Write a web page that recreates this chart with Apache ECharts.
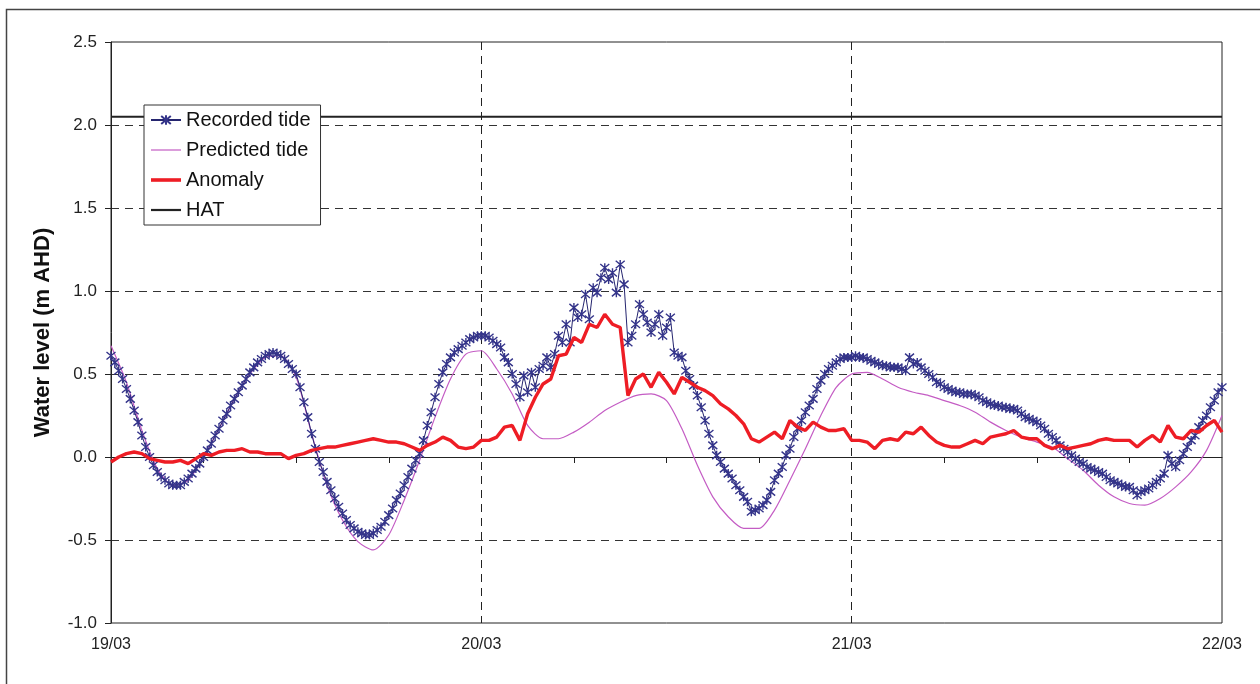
<!DOCTYPE html>
<html>
<head>
<meta charset="utf-8">
<script src="https://cdn.jsdelivr.net/npm/echarts@6/dist/echarts.min.js"></script>
<style>
html,body{margin:0;padding:0;background:#fff;}
#chart{width:1260px;height:684px;}
</style>
</head>
<body>
<div id="chart"></div>
<script>
// ---- Data (hours since 19/03 00:00) ----
const dayLabels = ['19/03', '20/03', '21/03', '22/03'];
const recordedStepHours = 0.25;
const recordedTide = [
  // 19/03
  0.61, 0.57, 0.52, 0.47, 0.41, 0.35, 0.28, 0.21, 0.13, 0.06, 0.00, -0.05,
  -0.09, -0.12, -0.14, -0.16, -0.17, -0.17, -0.17, -0.15, -0.13, -0.10, -0.07, -0.04,
  0.00, 0.04, 0.08, 0.13, 0.17, 0.22, 0.26, 0.31, 0.35, 0.39, 0.43, 0.47,
  0.51, 0.54, 0.57, 0.59, 0.61, 0.62, 0.63, 0.62, 0.61, 0.59, 0.56, 0.53,
  0.50, 0.42, 0.33, 0.24, 0.14, 0.05, -0.03, -0.09, -0.15, -0.20, -0.25, -0.30,
  -0.34, -0.38, -0.41, -0.43, -0.45, -0.46, -0.47, -0.47, -0.46, -0.44, -0.42, -0.39,
  -0.35, -0.31, -0.26, -0.22, -0.17, -0.12, -0.07, -0.02, 0.02, 0.10, 0.19, 0.27,
  0.36, 0.44, 0.51, 0.56, 0.60, 0.63, 0.65, 0.67, 0.69, 0.71, 0.72, 0.73,
  // 20/03
  0.73, 0.73, 0.72, 0.70, 0.68, 0.66, 0.60, 0.57, 0.50, 0.44, 0.36, 0.49,
  0.39, 0.51, 0.42, 0.53, 0.55, 0.60, 0.54, 0.62, 0.73, 0.69, 0.80, 0.69,
  0.90, 0.84, 0.86, 0.98, 0.83, 1.02, 0.99, 1.08, 1.14, 1.07, 1.11, 0.99,
  1.16, 1.04, 0.69, 0.73, 0.80, 0.92, 0.86, 0.81, 0.75, 0.80, 0.86, 0.73,
  0.78, 0.84, 0.63, 0.61, 0.60, 0.52, 0.47, 0.43, 0.37, 0.30, 0.22, 0.14,
  0.07, 0.01, -0.03, -0.07, -0.10, -0.13, -0.17, -0.20, -0.24, -0.27, -0.33, -0.32,
  -0.31, -0.29, -0.26, -0.21, -0.14, -0.10, -0.06, 0.01, 0.05, 0.12, 0.17, 0.22,
  0.27, 0.31, 0.35, 0.41, 0.46, 0.50, 0.53, 0.55, 0.57, 0.59, 0.60, 0.60,
  // 21/03
  0.60, 0.61, 0.60, 0.60, 0.59, 0.58, 0.57, 0.56, 0.55, 0.55, 0.54, 0.54,
  0.54, 0.53, 0.52, 0.60, 0.56, 0.57, 0.54, 0.52, 0.50, 0.48, 0.45, 0.44,
  0.42, 0.41, 0.40, 0.39, 0.39, 0.38, 0.38, 0.38, 0.37, 0.36, 0.34, 0.33,
  0.32, 0.31, 0.31, 0.30, 0.30, 0.29, 0.29, 0.28, 0.26, 0.24, 0.23, 0.22,
  0.21, 0.19, 0.17, 0.14, 0.12, 0.10, 0.07, 0.05, 0.03, 0.01, -0.01, -0.03,
  -0.04, -0.06, -0.07, -0.08, -0.09, -0.10, -0.12, -0.14, -0.15, -0.16, -0.17, -0.18,
  -0.18, -0.20, -0.23, -0.21, -0.20, -0.19, -0.17, -0.15, -0.13, -0.10, 0.01, -0.04,
  -0.06, -0.02, 0.02, 0.06, 0.10, 0.13, 0.18, 0.22, 0.25, 0.30, 0.34, 0.39,
  // 22/03 00:00
  0.42
];
const predictedStepHours = 1;
const predictedTide = [
  0.67, 0.45, 0.16, -0.07, -0.17, -0.14, 0.00, 0.17, 0.35, 0.50, 0.60, 0.61,
  0.48, 0.14, -0.17, -0.38, -0.51, -0.56, -0.47, -0.26, -0.02, 0.24, 0.47, 0.62,
  0.64, 0.53, 0.38, 0.19, 0.11, 0.11, 0.15, 0.21, 0.28, 0.33, 0.37, 0.38,
  0.34, 0.17, -0.05, -0.24, -0.36, -0.43, -0.43, -0.32, -0.14, 0.05, 0.25, 0.42,
  0.50, 0.51, 0.47, 0.42, 0.39, 0.37, 0.34, 0.31, 0.27, 0.21, 0.16, 0.12,
  0.09, 0.06, -0.01, -0.08, -0.17, -0.24, -0.28, -0.29, -0.25, -0.18, -0.09, 0.04,
  0.25
];
const anomalyStepHours = 0.5;
const anomaly = [
  -0.03, 0.00, 0.02, 0.03, 0.02, -0.01, -0.02, -0.03, -0.03, -0.02, -0.04, -0.01,
  0.02, 0.01, 0.03, 0.04, 0.04, 0.05, 0.03, 0.03, 0.02, 0.02, 0.02, -0.01,
  0.01, 0.02, 0.04, 0.05, 0.06, 0.06, 0.07, 0.08, 0.09, 0.10, 0.11, 0.10,
  0.09, 0.09, 0.08, 0.06, 0.04, 0.07, 0.09, 0.12, 0.10, 0.06, 0.05, 0.06,
  0.10, 0.10, 0.12, 0.18, 0.19, 0.10, 0.26, 0.36, 0.44, 0.47, 0.61, 0.62,
  0.72, 0.69, 0.80, 0.78, 0.86, 0.80, 0.78, 0.37, 0.47, 0.50, 0.42, 0.51,
  0.45, 0.38, 0.48, 0.45, 0.42, 0.40, 0.37, 0.32, 0.29, 0.25, 0.20, 0.11,
  0.09, 0.12, 0.15, 0.11, 0.22, 0.18, 0.16, 0.21, 0.18, 0.16, 0.16, 0.17,
  0.10, 0.10, 0.09, 0.05, 0.10, 0.11, 0.10, 0.15, 0.14, 0.18, 0.13, 0.09,
  0.07, 0.06, 0.06, 0.08, 0.10, 0.08, 0.12, 0.13, 0.14, 0.16, 0.12, 0.11,
  0.11, 0.07, 0.05, 0.07, 0.05, 0.06, 0.07, 0.08, 0.10, 0.11, 0.10, 0.10,
  0.10, 0.06, 0.10, 0.13, 0.09, 0.19, 0.12, 0.11, 0.16, 0.15, 0.19, 0.22,
  0.15
];
const hatLevel = 2.05;
const hatHours = [0, 72];

// ---- Build [hour, value] pairs ----
function pairs(values, step) { return values.map((v, i) => [i * step, v]); }
const recPairs = pairs(recordedTide, recordedStepHours);
const predPairs = pairs(predictedTide, predictedStepHours);
const anomPairs = pairs(anomaly, anomalyStepHours);
const hatPairs = hatHours.map(h => [h, hatLevel]);

const FONT = '"Liberation Sans", Arial, sans-serif';
const starPath = 'path://M0,0L10,10M10,0L0,10M5,-1L5,11';
const NAVY = '#25256f';
const ORCHID = '#c45cc4';
const RED = '#ee1d25';
const BLACK = '#222';

const chart = echarts.init(document.getElementById('chart'), null, {renderer: 'canvas'});
chart.setOption({
  animation: false,
  backgroundColor: '#fff',
  textStyle: {fontFamily: FONT},
  graphic: [{
    type: 'rect', left: 4, top: 7, silent: true, z: -10,
    shape: {x: 0, y: 0, width: 1300, height: 700},
    style: {fill: 'none', stroke: '#444', lineWidth: 1.5}
  }],
  grid: {left: 111, top: 42, right: 38, bottom: 61, show: true,
         borderColor: BLACK, borderWidth: 1, backgroundColor: 'transparent'},
  legend: {
    orient: 'vertical', left: 144, top: 105,
    backgroundColor: '#fff', borderColor: '#333', borderWidth: 1,
    padding: [5, 10, 5, 6], itemGap: 10, itemWidth: 30, itemHeight: 12,
    textStyle: {fontFamily: FONT, fontSize: 20, color: '#111'},
    data: [
      {name: 'Recorded tide'},
      {name: 'Predicted tide', icon: 'path://M0,0h30v1.2h-30z', itemStyle: {color: ORCHID}},
      {name: 'Anomaly', icon: 'path://M0,0h30v3.6h-30z', itemStyle: {color: RED}},
      {name: 'HAT', icon: 'path://M0,0h30v2.2h-30z', itemStyle: {color: BLACK}}
    ]
  },
  xAxis: {
    type: 'value', min: 0, max: 72, interval: 24,
    axisLine: {show: true, lineStyle: {color: BLACK, width: 1}},
    axisTick: {show: false},
    minorTick: {show: true, splitNumber: 4, length: 6, lineStyle: {color: BLACK, width: 1}},
    axisLabel: {
      fontFamily: FONT, fontSize: 16, color: '#222', margin: 14,
      formatter: v => dayLabels[Math.round(v / 24)]
    },
    splitLine: {show: true, showMinLine: false, showMaxLine: false,
      lineStyle: {color: '#222', type: [8, 6], width: 1}}
  },
  yAxis: {
    type: 'value', min: -1, max: 2.5, interval: 0.5,
    name: 'Water level (m AHD)', nameLocation: 'middle', nameGap: 57,
    nameTextStyle: {fontFamily: FONT, fontSize: 22, fontWeight: 'bold', color: '#111'},
    axisLine: {show: true, lineStyle: {color: BLACK, width: 1}},
    axisTick: {show: true, inside: false, length: 6, lineStyle: {color: BLACK}},
    axisLabel: {fontFamily: FONT, fontSize: 17, color: '#222', margin: 14,
      formatter: v => v.toFixed(1)},
    splitLine: {show: true, showMinLine: false, showMaxLine: false,
      lineStyle: {color: '#333', type: [8, 6], width: 1}}
  },
  series: [
    {
      name: 'Recorded tide', type: 'line', data: recPairs,
      symbol: starPath, symbolSize: 9, showAllSymbol: true,
      lineStyle: {color: NAVY, width: 1},
      itemStyle: {color: NAVY, borderColor: '#34348a', borderWidth: 1.4},
      z: 4
    },
    {
      name: 'Predicted tide', type: 'line', data: predPairs,
      symbol: 'none', smooth: 0.25,
      lineStyle: {color: ORCHID, width: 1.2},
      itemStyle: {color: ORCHID},
      z: 3
    },
    {
      name: 'Anomaly', type: 'line', data: anomPairs,
      symbol: 'none',
      lineStyle: {color: RED, width: 3.4},
      itemStyle: {color: RED},
      z: 5
    },
    {
      name: 'HAT', type: 'line', data: hatPairs,
      symbol: 'none', clip: false,
      lineStyle: {color: BLACK, width: 2},
      itemStyle: {color: BLACK},
      z: 2
    }
  ]
});
</script>
</body>
</html>
